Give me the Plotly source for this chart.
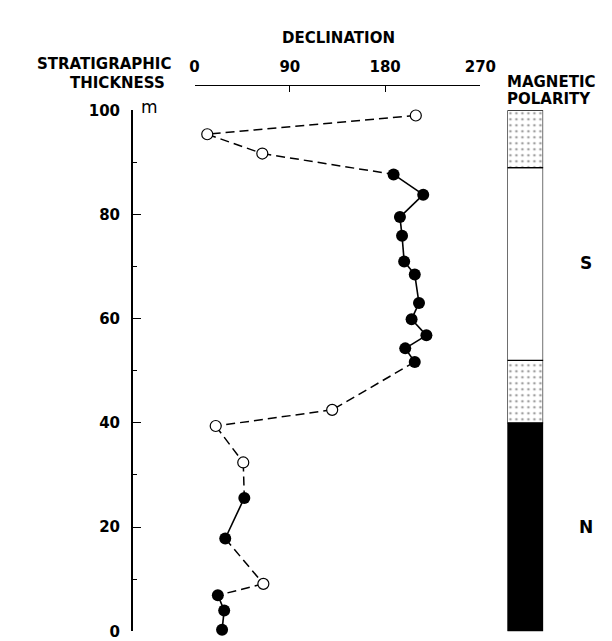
import plotly.graph_objects as go

# ---- data ----
thickness = [99, 95.4, 91.7, 87.7, 83.8, 79.5, 75.9, 71.0, 68.5, 63.0, 59.9, 56.8,
             54.3, 51.7, 42.5, 39.4, 32.4, 25.6, 17.8, 9.1, 6.9, 4.0, 0.3]
declination = [209, 12, 64, 188, 216, 194, 196, 198, 208, 212, 205, 219,
               199, 208, 130, 20, 46, 47, 29, 65, 22, 28, 26]
filled = [0, 0, 0, 1, 1, 1, 1, 1, 1, 1, 1, 1,
          1, 1, 0, 0, 0, 1, 1, 0, 1, 1, 1]

polarity_base = [0, 40, 52, 89]
polarity_top = [40, 52, 89, 100]
polarity_kind = ["N", "T", "S", "T"]   # N normal (black), S reversed (white), T transitional (stippled)

decl_ticks = [0, 90, 180, 270]
thick_ticks = [0, 20, 40, 60, 80, 100]

W, H = 612, 641
def fx(px): return px / W
def fy(py): return 1 - py / H

FONT = "DejaVu Sans, Verdana, sans-serif"

fig = go.Figure()

# connecting segments: solid between two filled samples, dashed otherwise
sx, sy, dx, dy = [], [], [], []
for i in range(len(thickness) - 1):
    seg_x = [declination[i], declination[i + 1], None]
    seg_y = [thickness[i], thickness[i + 1], None]
    if filled[i] and filled[i + 1]:
        sx += seg_x; sy += seg_y
    else:
        dx += seg_x; dy += seg_y

fig.add_trace(go.Scatter(x=dx, y=dy, mode="lines", line=dict(color="black", width=1.5, dash="9px,5px"),
                         hoverinfo="skip", cliponaxis=False))
fig.add_trace(go.Scatter(x=sx, y=sy, mode="lines", line=dict(color="black", width=1.6),
                         hoverinfo="skip", cliponaxis=False))

ox = [d for d, f in zip(declination, filled) if not f]
oy = [t for t, f in zip(thickness, filled) if not f]
fxv = [d for d, f in zip(declination, filled) if f]
fyv = [t for t, f in zip(thickness, filled) if f]
fig.add_trace(go.Scatter(x=ox, y=oy, mode="markers", cliponaxis=False,
                         marker=dict(size=11, color="white", line=dict(color="black", width=1.2))))
fig.add_trace(go.Scatter(x=fxv, y=fyv, mode="markers", cliponaxis=False,
                         marker=dict(size=12, color="black", line=dict(color="black", width=0))))

# polarity column
colors = ["black" if k == "N" else "white" for k in polarity_kind]
shapes = ["." if k == "T" else "" for k in polarity_kind]
fig.add_trace(go.Bar(x=[0.5] * 4, y=[t - b for b, t in zip(polarity_base, polarity_top)],
                     base=polarity_base, width=1, xaxis="x2", yaxis="y",
                     marker=dict(color=colors, line=dict(color="black", width=1.2),
                                 pattern=dict(shape=shapes, fgcolor="black", bgcolor="white",
                                              size=6, solidity=0.16, fillmode="overlay")),
                     hoverinfo="skip"))

ydom = [fy(632), fy(96)]
fig.update_layout(
    width=W, height=H, margin=dict(l=0, r=0, t=0, b=0),
    paper_bgcolor="white", plot_bgcolor="white", showlegend=False,
    barmode="overlay",
    font=dict(family=FONT, color="black"),
    xaxis=dict(domain=[fx(188), fx(484)], range=[0, 270], side="top", anchor="free",
               position=fy(70), showline=True, linecolor="black", linewidth=1.3,
               ticks="inside", ticklen=6, tickwidth=1.3, tickcolor="black",
               tickvals=decl_ticks, ticktext=[str(v) for v in decl_ticks],
               tickfont=dict(size=15, family=FONT, weight="bold"), ticklabelstandoff=7,
               ticklabeloverflow="allow",
               showgrid=False, zeroline=False),
    yaxis=dict(domain=ydom, range=[0, 100], anchor="free", position=fx(123),
               showline=True, linecolor="black", linewidth=1.5,
               ticks="inside", ticklen=8, tickwidth=1.3, tickcolor="black",
               tickvals=thick_ticks, ticktext=[str(v) for v in thick_ticks],
               tickfont=dict(size=15, family=FONT, weight="bold"), ticklabelstandoff=8,
               ticklabeloverflow="allow",
               minor=dict(dtick=10, ticks="inside", ticklen=4, tickcolor="black", tickwidth=1.2),
               showgrid=False, zeroline=False),
    xaxis2=dict(domain=[fx(512), fx(549)], range=[0, 1], anchor="y", visible=False),
)

ann = [
    dict(text="DECLINATION", x=fx(337), y=fy(22), size=15, xa="center"),
    dict(text="STRATIGRAPHIC", x=fx(94), y=fy(48), size=15, xa="center"),
    dict(text="THICKNESS", x=fx(108), y=fy(68), size=15, xa="center"),
    dict(text="MAGNETIC", x=fx(509), y=fy(67), size=15, xa="left"),
    dict(text="POLARITY", x=fx(509), y=fy(84), size=15, xa="left"),
    dict(text="S", x=fx(593), y=fy(253), size=17, xa="center"),
    dict(text="N", x=fx(593), y=fy(525), size=17, xa="center"),
]
for a in ann:
    fig.add_annotation(text=a["text"], x=a["x"], y=a["y"], xref="paper", yref="paper",
                       showarrow=False, xanchor=a["xa"], yanchor="middle",
                       font=dict(size=a["size"], family=FONT, weight="bold", color="black"))
fig.add_annotation(text="m", x=fx(141), y=fy(93), xref="paper", yref="paper", showarrow=False,
                   xanchor="center", yanchor="middle", font=dict(size=17, family=FONT, color="black"))

fig.write_html("out.html")
